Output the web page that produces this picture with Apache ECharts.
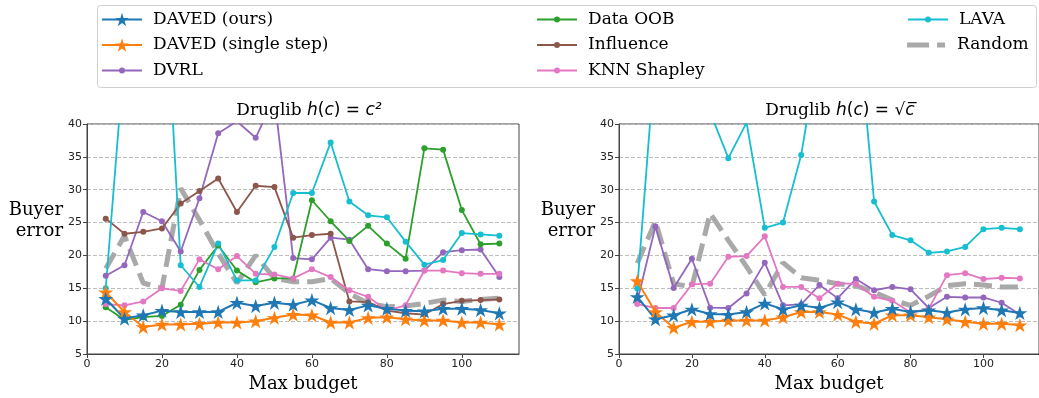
<!DOCTYPE html>
<html><head><meta charset="utf-8">
<script src="https://cdn.jsdelivr.net/npm/echarts@6/dist/echarts.min.js"></script>
<style>html,body{margin:0;padding:0;background:#fff}#c{width:1039px;height:398px}</style>
</head><body><div id="c"></div>
<script>
// Max budget values (x)
const budgets = [5,10,15,20,25,30,35,40,45,50,55,60,65,70,75,80,85,90,95,100,105,110];
const xTickValues = [0,20,40,60,80,100];

// Left panel: Druglib h(c) = c^2
const leftDavedOurs   = [13.4,10.4,10.9,11.6,11.4,11.4,11.4,12.8,12.3,12.8,12.5,13.2,12.0,11.7,12.4,11.9,11.6,11.5,11.9,11.9,11.7,11.2];
const leftDavedSingle = [14.4,11.4,9.1,9.5,9.5,9.6,9.8,9.8,10.0,10.5,11.0,10.9,9.8,9.8,10.5,10.6,10.3,10.1,10.1,9.8,9.8,9.5];
const leftDvrl        = [16.9,18.5,26.6,25.2,20.6,28.7,38.6,40.4,37.9,44.0,19.6,19.4,22.7,22.4,17.9,17.6,17.6,17.7,20.5,20.8,20.9,16.7];
const leftDataOob     = [12.1,10.2,10.6,10.8,12.5,17.8,21.5,17.7,15.9,16.5,16.5,28.4,25.2,22.2,24.5,21.8,19.5,36.3,36.1,26.9,21.7,21.8];
const leftInfluence   = [25.6,23.3,23.6,24.1,27.9,29.8,31.7,26.6,30.6,30.4,22.7,23.1,23.3,13.0,12.9,11.6,11.2,11.0,12.6,13.1,13.2,13.3];
const leftKnn         = [12.6,12.4,13.0,15.0,14.6,19.4,17.9,19.9,17.2,17.1,16.5,17.9,16.7,14.7,13.7,11.6,12.4,17.7,17.7,17.3,17.2,17.2];
const leftLava        = [15.0,50.7,62.0,71.0,18.5,15.2,21.8,16.2,16.2,21.3,29.5,29.5,37.2,28.2,26.1,25.8,22.1,18.6,19.3,23.4,23.2,23.0];
const leftRandom      = [18.0,23.0,15.8,15.0,30.2,25.4,20.3,15.8,20.0,16.5,16.0,16.0,16.5,14.2,12.7,12.2,12.3,12.7,13.2,13.0,13.3,13.5];

// Right panel: Druglib h(c) = sqrt(c)
const rightDavedOurs   = [13.7,10.3,10.9,11.8,11.1,11.0,11.4,12.7,11.8,12.4,12.0,12.9,11.8,11.3,11.9,11.4,11.65,11.3,11.8,12.0,11.65,11.25];
const rightDavedSingle = [16.1,11.4,9.0,9.9,9.9,10.1,10.1,10.1,10.6,11.4,11.4,11.0,9.9,9.6,10.9,10.9,10.6,10.3,9.9,9.6,9.6,9.4];
const rightDvrl        = [13.0,24.4,15.05,19.5,12.05,12.0,14.2,18.9,12.4,12.55,15.5,13.5,16.4,14.7,15.2,14.85,12.0,13.7,13.6,13.6,12.8,11.0];
const rightKnn         = [12.6,12.0,12.0,15.6,15.7,19.8,19.9,22.9,15.2,15.2,13.5,15.7,15.7,13.7,13.1,11.3,11.9,17.0,17.3,16.4,16.6,16.5];
const rightLava        = [14.95,50.7,55.0,50.0,41.8,34.8,40.2,24.2,25.0,35.3,52.0,60.0,58.5,28.2,23.1,22.3,20.4,20.6,21.3,24.0,24.2,24.0];
const rightRandom      = [18.8,25.2,15.7,15.2,26.4,22.3,18.3,14.0,18.9,16.6,16.2,15.7,15.4,14.4,13.2,12.4,13.8,15.4,15.7,15.5,15.2,15.2];

const yTicksMin = 5, yTicksMax = 40, yTickStep = 5;

const C = {
  ours:'#1f77b4', single:'#ff7f0e', dvrl:'#9467bd', oob:'#2ca02c',
  infl:'#8c564b', knn:'#e377c2', lava:'#17becf', rand:'#a9a9a9'
};
const STAR = 'path://M100,0 L122.45,69.1 L195.1,69.1 L136.33,111.8 L158.78,180.9 L100,138.2 L41.22,180.9 L63.67,111.8 L4.9,69.1 L77.55,69.1 Z';
const DASH_ICON = 'path://M0,0H22V5H0ZM30,0H38V5H30Z';

function pts(arr){ return budgets.map((b,i)=>[b, arr[i]]); }
function mk(name, arr, color, idx, kind){
  const s = {
    name, type:'line', data: pts(arr), xAxisIndex: idx, yAxisIndex: idx,
    color, showSymbol:true, showAllSymbol:true, clip:true, animation:false,
    emphasis:{disabled:true}, silent:true,
    lineStyle:{color, width:1.8}, itemStyle:{color, borderWidth:0}
  };
  if (kind === 'star') { s.symbol = STAR; s.symbolSize = 15; s.symbolKeepAspect = true; s.lineStyle.width = 2; s.z = 5; }
  else if (kind === 'rand') { s.symbol = 'none'; s.lineStyle = {color, width:5, type:[18,8], cap:'butt'}; s.z = 1; }
  else { s.symbol = 'circle'; s.symbolSize = 6; s.z = 3; }
  return s;
}

const series = [
  mk('Random', leftRandom, C.rand, 0, 'rand'),
  mk('DVRL', leftDvrl, C.dvrl, 0),
  mk('Data OOB', leftDataOob, C.oob, 0),
  mk('Influence', leftInfluence, C.infl, 0),
  mk('KNN Shapley', leftKnn, C.knn, 0),
  mk('LAVA', leftLava, C.lava, 0),
  mk('DAVED (single step)', leftDavedSingle, C.single, 0, 'star'),
  mk('DAVED (ours)', leftDavedOurs, C.ours, 0, 'star'),
  mk('Random', rightRandom, C.rand, 1, 'rand'),
  mk('DVRL', rightDvrl, C.dvrl, 1),
  mk('KNN Shapley', rightKnn, C.knn, 1),
  mk('LAVA', rightLava, C.lava, 1),
  mk('DAVED (single step)', rightDavedSingle, C.single, 1, 'star'),
  mk('DAVED (ours)', rightDavedOurs, C.ours, 1, 'star')
];

const tickFont = {fontFamily:'DejaVu Sans', fontSize:11, color:'#222'};
const serif = 'DejaVu Serif';

function xAx(gi){
  return {
    type:'value', gridIndex:gi, min:0, max:115.25, interval:20,
    name:'Max budget', nameLocation:'middle', nameGap:20,
    nameTextStyle:{fontFamily:serif, fontSize:18, color:'#000'},
    axisLine:{lineStyle:{color:'#444', width:1}},
    axisTick:{show:true, inside:false, length:4, lineStyle:{color:'#444'}, customValues: xTickValues},
    axisLabel:Object.assign({margin:5, customValues: xTickValues}, tickFont),
    splitLine:{show:false}
  };
}
function yAx(gi){
  return {
    type:'value', gridIndex:gi, min:yTicksMin, max:yTicksMax, interval:yTickStep,
    name:'Buyer\nerror\n{g| }', nameLocation:'middle', nameRotate:0, nameGap:24,
    nameTextStyle:{fontFamily:serif, fontSize:18, lineHeight:21, color:'#000', align:'right', verticalAlign:'middle',
      rich:{g:{fontSize:10, lineHeight:37}}},
    axisLine:{show:true, lineStyle:{color:'#444', width:1}},
    axisTick:{show:true, inside:false, length:4, lineStyle:{color:'#444'}},
    axisLabel:Object.assign({margin:5}, tickFont),
    splitLine:{show:true, lineStyle:{color:'#bdbdbd', width:1, type:[4,2]}}
  };
}

const richTitle = {
  s:{fontFamily:serif, fontSize:17, fontWeight:'normal', color:'#000'},
  m:{fontFamily:'DejaVu Sans', fontStyle:'italic', fontWeight:'normal', fontSize:17, color:'#000'},
  n:{fontFamily:'DejaVu Sans', fontWeight:'normal', fontSize:17, color:'#000'}
};

const ROW_H = 25.5, ROW0 = 19.5;
function leg(names, left, row, itemHeight){
  return {
    data:names, orient:'vertical', left, top: ROW0 + row*ROW_H - ROW_H/2, padding:0,
    itemWidth:40, itemHeight, itemGap:0, selectedMode:false,
    textStyle:{fontFamily:serif, fontSize:17, lineHeight:ROW_H, color:'#000', padding:[0,0,0,6]}
  };
}

const option = {
  backgroundColor:'#fff',
  animation:false,
  title:[
    {text:'{s|Druglib }{m|h}{n|(}{m|c}{n|) = }{m|c²}', left:304, top:97, textAlign:'center', textStyle:{fontWeight:'normal', rich:richTitle}},
    {text:'{s|Druglib }{m|h}{n|(}{m|c}{n|) = √}{m|c̅}', left:835, top:97, textAlign:'center', textStyle:{fontWeight:'normal', rich:richTitle}}
  ],
  legend:[
    leg(['DAVED (ours)','DAVED (single step)'], 101, 0, 17),
    leg(['DVRL'], 101, 2, 7.5),
    leg(['Data OOB','Influence','KNN Shapley'], 536, 0, 7.5),
    leg(['LAVA'], 907, 0, 7.5),
    leg([{name:'Random', icon: DASH_ICON}], 907, 1, 5)
  ],
  grid:[
    {left:87, top:124, width:432, height:230, show:true, borderColor:'#444', borderWidth:1, backgroundColor:'transparent'},
    {left:619, top:124, width:432, height:230, show:true, borderColor:'#444', borderWidth:1, backgroundColor:'transparent'}
  ],
  xAxis:[xAx(0), xAx(1)],
  yAxis:[yAx(0), yAx(1)],
  graphic:[
    {type:'rect', z:-1, shape:{x:97.5, y:5.5, width:939, height:82, r:3}, style:{fill:'none', stroke:'#d0d0d0', lineWidth:1}}
  ],
  series
};

const chart = echarts.init(document.getElementById('c'), null, {renderer:'canvas'});
chart.setOption(option);
</script>
</body></html>
